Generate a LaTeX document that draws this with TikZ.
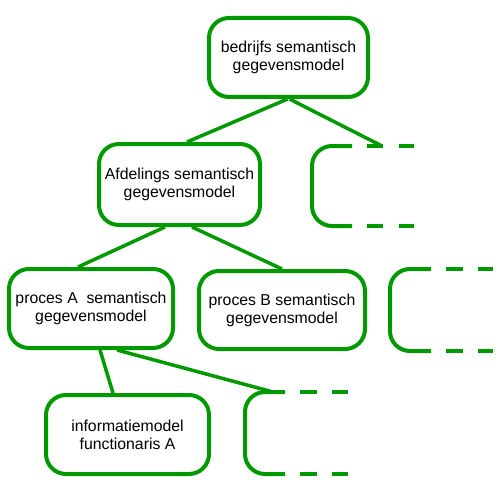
\documentclass[tikz,border=0pt]{standalone}
\usepackage{fontspec}
\setmainfont{Liberation Sans}
\definecolor{grn}{RGB}{0,153,0}
\begin{document}
\begin{tikzpicture}[x=1pt,y=-1pt,
  box/.style={draw=grn, line width=4pt, rounded corners=20pt, align=center,
    font=\fontsize{15.8}{18}\selectfont, inner sep=0pt},
  link/.style={draw=grn, line width=3.5pt},
  part/.style={draw=grn, line width=4pt},
  partr/.style={part, rounded corners=20pt}]
\useasboundingbox[fill=white] (0,0) rectangle (500,500);

\node[box, minimum width=159pt, minimum height=79pt] (top) at (288.5,57.5) {bedrijfs semantisch\\gegevensmodel};
\node[box, minimum width=161pt, minimum height=81pt] (afd) at (179.5,184.5) {Afdelings semantisch\\gegevensmodel};
\node[box, minimum width=164pt, minimum height=79pt] (pA) at (91,308.5) {proces A\ \ semantisch\\gegevensmodel};
\node[box, minimum width=166pt, minimum height=78pt] (pB) at (282,310) {proces B semantisch\\gegevensmodel};
\node[box, minimum width=163pt, minimum height=79pt] (info) at (127.5,434.5) {informatiemodel\\functionaris A};

% partial boxes
\draw[partr] (352,146) -- (312,146) -- (312,226) -- (352,226);
\draw[part] (367,146) -- (383,146) (399,146) -- (414,146)
            (367,226) -- (383,226) (399,226) -- (414,226);
\draw[partr] (431,269) -- (390,269) -- (390,351) -- (431,351);
\draw[part] (446,269) -- (463,269) (478,269) -- (493,269)
            (446,351) -- (463,351) (478,351) -- (493,351);
\draw[partr] (285,392) -- (245,392) -- (245,474) -- (285,474);
\draw[part] (300,392) -- (317,392) (332,392) -- (348,392)
            (300,474) -- (317,474) (332,474) -- (348,474);

\coordinate (p2top) at (382,146);
\coordinate (p4top) at (273,392);

% connectors
\draw[link] ([xshift=-1pt]top.south) -- ([xshift=7.5pt]afd.north);
\draw[link] ([xshift=1pt]top.south) -- (p2top);
\draw[link] ([xshift=-14.5pt]afd.south) -- ([xshift=-13pt]pA.north);
\draw[link] ([xshift=12.5pt]afd.south) -- (pB.north);
\draw[link] ([xshift=9pt]pA.south) -- ([xshift=-14.5pt]info.north);
\draw[link] ([xshift=26pt]pA.south) -- (p4top);
\end{tikzpicture}
\end{document}
